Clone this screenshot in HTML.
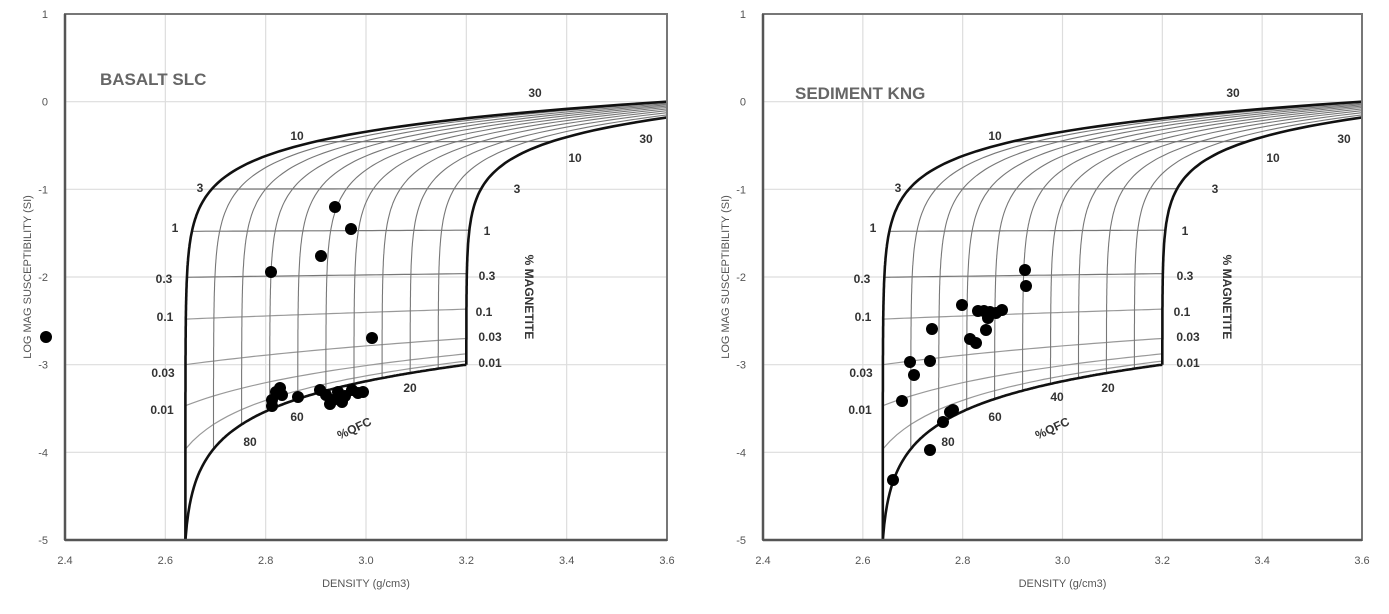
<!DOCTYPE html>
<html><head><meta charset="utf-8"><style>
body{margin:0;background:#fff;}
svg{display:block;font-family:"Liberation Sans",sans-serif;}
</style></head><body>
<svg id="s" width="1389" height="614" xmlns="http://www.w3.org/2000/svg">
<rect width="1389" height="614" fill="#fff"/>
</svg>
<script>
const NS="http://www.w3.org/2000/svg";
const S=document.getElementById('s');
function el(tag,attrs,parent,text){const e=document.createElementNS(NS,tag);for(const k in attrs)e.setAttribute(k,attrs[k]);if(text!==undefined)e.textContent=text;(parent||S).appendChild(e);return e;}
function chart(X0,X1,Y0,Y1,id,title,tx,ty,pts,labels){
  const X=d=>X0+(d-2.4)/1.2*(X1-X0);
  const Y=v=>Y0+(1-v)/6*(Y1-Y0);
  for(let d=2.6;d<3.61;d+=0.2) el('line',{x1:X(d),x2:X(d),y1:Y0,y2:Y1,stroke:'#ddd','stroke-width':1.2});
  for(let v=0;v>=-4;v--) el('line',{x1:X0,x2:X1,y1:Y(v),y2:Y(v),stroke:'#ddd','stroke-width':1.2});
  const cp=el('clipPath',{id:id});el('rect',{x:X0,y:Y0,width:X1-X0,height:Y1-Y0},cp);
  const g=el('g',{'clip-path':'url(#'+id+')'});
  const dL=m=>2.64+5.6*Math.pow(m,1.45)+0.6*m, dR=m=>3.2+4.8*Math.pow(m,1.45);
  const P=(m,q)=>{const d=q*dL(m)+(1-q)*dR(m);const k=3.3*m+2*m*m+1e-5*q+1e-3*(1-q);return [X(d),Y(Math.log10(k))];};
  const path=(arr,w,c)=>el('path',{d:'M'+arr.map(p=>p[0].toFixed(1)+','+p[1].toFixed(1)).join('L'),fill:'none',stroke:c,'stroke-width':w},g);
  [0.00003,0.0001,0.0003,0.001,0.003,0.01,0.03,0.1].forEach(m=>{const a=[];for(let i=0;i<=40;i++)a.push(P(m,i/40));path(a,1.2,m>=0.003?'#777':'#999');});
  const ms=[];for(let i=0;i<=300;i++){ms.push(i===0?0:Math.pow(10,-7+i*(6.7/300)));}
  for(let q=0.1;q<0.95;q+=0.1){path(ms.map(m=>P(m,q)),1.1,'#777');}
  path(ms.map(m=>P(m,1)),2.6,'#111');
  path(ms.map(m=>P(m,0)),2.6,'#111');
  const b=[];for(let i=0;i<=200;i++){const q=i/200;b.push(P(0,q));}
  path(b,2.6,'#111');
  el('rect',{x:X0,y:Y0,width:X1-X0,height:Y1-Y0,fill:'none',stroke:'#777','stroke-width':2});
  el('line',{x1:X0,x2:X0,y1:Y0,y2:Y1,stroke:'#555','stroke-width':2.5});
  el('line',{x1:X0,x2:X1,y1:Y1,y2:Y1,stroke:'#555','stroke-width':2.5});
  for(let v=1;v>=-5;v--) el('text',{x:X0-17,y:Y(v)+4,'font-size':11,fill:'#555','text-anchor':'end'},S,String(v));
  ['2.4','2.6','2.8','3.0','3.2','3.4','3.6'].forEach((t,i)=>el('text',{x:X0+i*(X1-X0)/6,y:Y1+24,'font-size':11,fill:'#555','text-anchor':'middle'},S,t));
  el('text',{x:(X0+X1)/2,y:Y1+47,'font-size':11,fill:'#555','text-anchor':'middle'},S,'DENSITY (g/cm3)');
  el('text',{x:0,y:0,'font-size':11,fill:'#555','text-anchor':'middle',transform:`translate(${X0-34},${(Y0+Y1)/2}) rotate(-90)`},S,'LOG MAG SUSCEPTIBILITY (SI)');
  el('text',{x:tx,y:ty,'font-size':17,'font-weight':'bold',fill:'#666'},S,title);
  labels.forEach(l=>{const t=el('text',{x:l[1],y:l[2],'font-size':12,'font-weight':'bold',fill:'#333','text-anchor':'middle'},S,l[0]);if(l[3])t.setAttribute('transform',`rotate(${l[3]},${l[1]},${l[2]})`);});
  pts.forEach(p=>el('circle',{cx:p[0],cy:p[1],r:6,fill:'#000'}));
}
const commonL=(o)=>[["10",297+o,140],["3",200+o,192],["1",175+o,232],["0.3",164+o,283],["0.1",165+o,321],["0.03",163+o,377],["0.01",162+o,414],["80",250+o,446],["60",297+o,421],["%QFC",356+o,432,-25],["20",410+o,392],["0.01",490+o,367],["0.03",490+o,341],["0.1",484+o,316],["0.3",487+o,280],["1",487+o,235],["3",517+o,193],["10",575+o,162],["30",646+o,143],["30",535+o,97],["% MAGNETITE",525+o,297,90]];
chart(65,667,14,540,'c1','BASALT SLC',100,85,
 [[46,337],[335,207],[351,229],[321,256],[271,272],[372,338],[272,400],[276,392],[282,395],[280,388],[272,406],[298,397],[320,390],[326,395],[333,400],[338,392],[345,396],[352,390],[358,393],[363,392],[330,404],[342,402]],
 commonL(0));
chart(763,1362,14,540,'c2','SEDIMENT KNG',795,99,
 [[893,480],[902,401],[910,362],[914,375],[930,361],[932,329],[950,412],[953,410],[930,450],[943,422],[962,305],[970,339],[976,343],[978,311],[984,311],[988,318],[986,330],[990,312],[996,313],[1002,310],[1025,270],[1026,286]],
 commonL(698).concat([["40",1057,401]]));
</script>
</body></html>
